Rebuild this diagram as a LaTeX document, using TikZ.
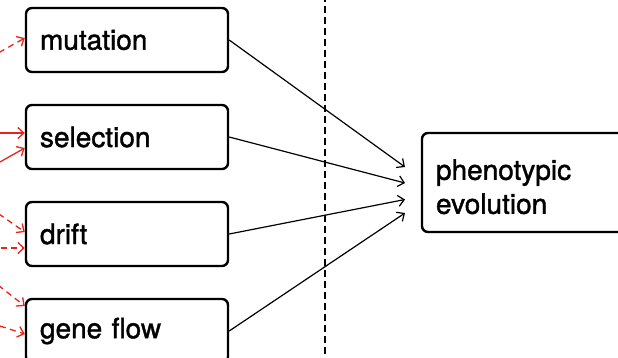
\documentclass[tikz,border=0pt]{standalone}
\usepackage{fontspec}
\setmainfont{TeX Gyre Heros}
\newfontfamily\labelfont{TeX Gyre Heros}[FakeBold=1.4]
\usetikzlibrary{arrows.meta}
\definecolor{fluxred}{HTML}{E8231B}
\tikzset{
  box/.style={draw=black, line width=2.4pt, rounded corners=6pt,
    minimum height=64pt, text width=174pt, inner xsep=14pt,
    align=left, font=\labelfont\fontsize{28}{34}\selectfont},
  bigbox/.style={box, minimum height=99pt, text width=202pt},
  flow/.style={draw=black, line width=1.2pt,
    -{Straight Barb[length=6pt,width=11pt,line width=1.2pt]}},
  driver/.style={draw=fluxred, line width=1.3pt,
    -{Straight Barb[length=6pt,width=11pt,line width=1.3pt]}},
  driverdash/.style={driver, dash pattern=on 6pt off 4.5pt},
  divider/.style={draw=black, line width=1.2pt, dash pattern=on 7pt off 4pt}
}
\begin{document}
\begin{tikzpicture}[x=1pt,y=-1pt]
  \useasboundingbox (0,0) rectangle (618,357);
  \clip (0,0) rectangle (618,357);

  % dashed divider
  \coordinate (divtop) at (325,-5);
  \coordinate (divbot) at (325,362);
  \path[divider] (divtop) -- (divbot);

  % the four processes
  \node[box] (mut) at (127,40) {mutation};
  \node[box] (sel) at (127,137) {selection};
  \node[box] (dri) at (127,234) {drift};
  \node[box] (gen) at (127,331) {gene flow};

  % outcome (the strut lowers the two lines a little)
  \node[bigbox] (phe) at (537,182.5) {\rule{0pt}{29pt}phenotypic\\evolution};

  % arrow heads in front of the outcome
  \coordinate (t1) at (405,167);
  \coordinate (t2) at (405,183);
  \coordinate (t3) at (405,199.5);
  \coordinate (t4) at (405,213);
  \path[flow] (mut.east) -- (t1);
  \path[flow] (sel.east) -- (t2);
  \path[flow] (dri.east) -- (t3);
  \path[flow] (gen.east) -- (t4);

  % incoming drivers from the left
  \coordinate (m1) at (-10,57.6);
  \coordinate (s1) at (-10,133);
  \coordinate (s2) at (-10,167.6);
  \coordinate (d1) at (-10,207.8);
  \coordinate (d2) at (-10,248);
  \coordinate (g1) at (-10,278.8);
  \coordinate (g2) at (-10,322.8);
  \path[driverdash] (m1) -- (mut.west |- 0,38);
  \path[driver] (s1) -- (sel.west |- 0,133);
  \path[driver] (s2) -- (sel.west |- 0,148);
  \path[driverdash] (d1) -- (dri.west |- 0,232);
  \path[driverdash] (d2) -- (dri.west |- 0,248);
  \path[driverdash] (g1) -- (gen.west |- 0,306);
  \path[driverdash] (g2) -- (gen.west |- 0,334);
\end{tikzpicture}
\end{document}
